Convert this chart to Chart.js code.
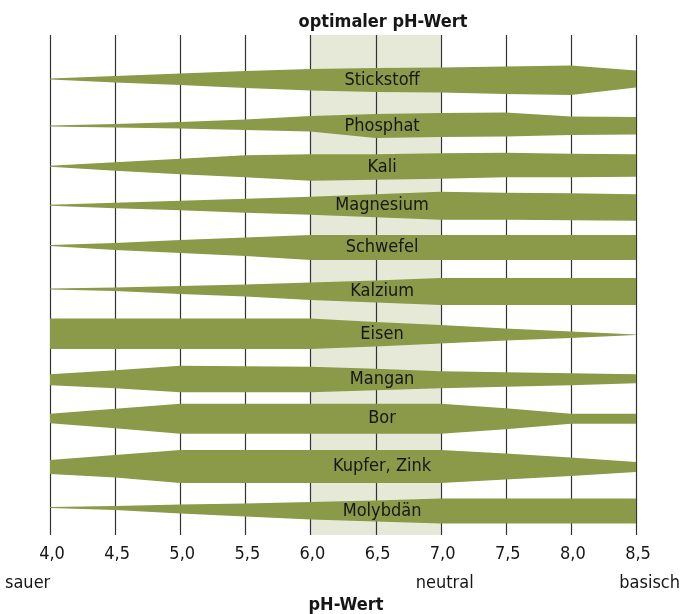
<!DOCTYPE html>
<html>
<head>
<meta charset="utf-8">
<script src="https://cdn.jsdelivr.net/npm/chart.js@4"></script>
<style>
  body { margin: 0; background: #fff; }
  #wrap { width: 681px; height: 614px; }
</style>
</head>
<body>
<div id="wrap"><canvas id="phChart" width="681" height="614"></canvas></div>
<script>
// pH-Stufen (x-Achse)
const ph = [4.0, 4.5, 5.0, 5.5, 6.0, 6.5, 7.0, 7.5, 8.0, 8.5];
const optimum = [6.0, 7.0];

const naehrstoffe = ["Stickstoff", "Phosphat", "Kali", "Magnesium", "Schwefel",
  "Kalzium", "Eisen", "Mangan", "Bor", "Kupfer, Zink", "Molybdän"];

// Verfuegbarkeit: Ausdehnung des Bandes ueber (oben) und unter (unten) der Grundlinie
const stickstoffOben = [1.5, 4, 6.5, 9, 11, 12, 12.5, 13.5, 14.5, 9.5];
const stickstoffUnten = [-0.5, 2.5, 5, 8, 10.5, 12, 12.5, 14, 15, 7.5];
const phosphatOben = [-2.5, -1, 1, 3.5, 7, 9, 10, 10.5, 6.5, 6];
const phosphatUnten = [3.5, 4.5, 5.5, 7, 8.5, 15, 14, 13.5, 12, 11.5];
const kaliOben = [0.5, 4, 7.5, 11, 12, 12, 13, 13.5, 12.5, 12];
const kaliUnten = [0.5, 4.5, 8, 11, 14.5, 13.5, 12.5, 11, 11, 10.5];
const magnesiumOben = [4.5, 6.5, 8.5, 10.5, 12.5, 15, 17.5, 16.5, 16, 15];
const magnesiumUnten = [-3.5, -1, 1, 3.5, 5.5, 8, 10.5, 10.5, 11, 11.5];
const schwefelOben = [7.5, 9.5, 12.5, 15, 17.5, 17.5, 17.5, 17.5, 17.5, 17.5];
const schwefelUnten = [-6.5, -2.5, 0.5, 3.5, 7.5, 7.5, 7.5, 7.5, 7.5, 7.5];
const kalziumOben = [7, 8, 9.5, 11, 13, 15, 17.5, 17.5, 17.5, 17.5];
const kalziumUnten = [-6, -4.5, -1.5, 1, 4.5, 7, 9.5, 9.5, 9.5, 9.5];
const eisenOben = [20, 20, 20, 20, 20, 16.5, 13.5, 10, 7, 4];
const eisenUnten = [10.5, 10.5, 10.5, 10.5, 10.5, 8, 5, 2, -0.5, -3.5];
const manganOben = [7.5, 11.5, 16, 15.5, 15, 13, 10.5, 9.5, 8.5, 7.5];
const manganUnten = [3.5, 6.5, 10.5, 10.5, 10.5, 8.5, 6.5, 5, 3.5, 1.5];
const borOben = [11, 16, 21, 21, 21, 21, 21, 16.5, 11, 11];
const borUnten = [-1.5, 3.5, 9, 9, 9, 9, 9, 4.5, -1, -1];
const kupferZinkOben = [8, 13, 18, 18, 18, 18, 18, 14.5, 10.5, 6];
const kupferZinkUnten = [6, 9.5, 15, 15, 15, 15, 15, 11.5, 8, 4];
const molybdaenOben = [4, 5, 6.5, 7.5, 9, 10.5, 12.5, 12.5, 12.5, 12.5];
const molybdaenUnten = [-3, -1, 2.5, 5.5, 8.5, 10.5, 12.5, 12.5, 12.5, 12.5];

const oben = [stickstoffOben, phosphatOben, kaliOben, magnesiumOben, schwefelOben,
  kalziumOben, eisenOben, manganOben, borOben, kupferZinkOben, molybdaenOben];
const unten = [stickstoffUnten, phosphatUnten, kaliUnten, magnesiumUnten, schwefelUnten,
  kalziumUnten, eisenUnten, manganUnten, borUnten, kupferZinkUnten, molybdaenUnten];

const zeile = 43.1;
const gruen = "#8a9a48";
const schrift = '"DejaVu Sans Condensed", "Liberation Sans Narrow", sans-serif';

const datasets = [];
naehrstoffe.forEach(function (name, i) {
  const mitte = i * zeile;
  datasets.push({
    label: name,
    data: ph.map((p, k) => ({ x: p, y: mitte - oben[i][k] })),
    backgroundColor: gruen,
    borderWidth: 0,
    pointRadius: 0,
    fill: "+1",
  });
  datasets.push({
    label: name + " unten",
    data: ph.map((p, k) => ({ x: p, y: mitte + unten[i][k] })),
    borderWidth: 0,
    pointRadius: 0,
    fill: false,
  });
});

const hintergrund = {
  id: "hintergrund",
  beforeDatasetsDraw(chart) {
    const { ctx, chartArea: a, scales: { x } } = chart;
    ctx.save();
    const x1 = x.getPixelForValue(optimum[0]);
    const x2 = x.getPixelForValue(optimum[1]);
    ctx.fillStyle = "#e6e8d8";
    ctx.fillRect(x1, a.top, x2 - x1, a.bottom - a.top);
    ctx.strokeStyle = "#333";
    ctx.lineWidth = 1.2;
    ph.forEach(function (v) {
      const px = Math.round(x.getPixelForValue(v)) + 0.5;
      ctx.beginPath();
      ctx.moveTo(px, a.top);
      ctx.lineTo(px, a.bottom);
      ctx.stroke();
    });
    ctx.restore();
  },
  afterDatasetsDraw(chart) {
    const { ctx, scales: { x, y } } = chart;
    ctx.save();
    ctx.fillStyle = "#161616";
    ctx.font = "18px " + schrift;
    ctx.textAlign = "center";
    ctx.textBaseline = "middle";
    // Beschriftung der Baender, mittig bei pH 6,5
    naehrstoffe.forEach(function (name, i) {
      const mitte = i * zeile;
      const yo = y.getPixelForValue(mitte - oben[i][5]);
      const yu = y.getPixelForValue(mitte + unten[i][5]);
      ctx.fillText(name, x.getPixelForValue(6.55), (yo + yu) / 2);
    });
    // Achsenbeschriftung
    ctx.textBaseline = "alphabetic";
    ph.forEach(function (v) {
      ctx.fillText(v.toFixed(1).replace(".", ","), x.getPixelForValue(v) + 2, 559);
    });
    ctx.textAlign = "left";
    ctx.fillText("sauer", 5, 588);
    ctx.textAlign = "center";
    ctx.fillText("neutral", x.getPixelForValue(7.0) + 4, 588);
    ctx.textAlign = "right";
    ctx.fillText("basisch", 680, 588);
    ctx.textAlign = "center";
    ctx.font = "bold 18px " + schrift;
    ctx.fillText("pH-Wert", 346, 610);
    ctx.fillText("optimaler pH-Wert", 383, 27);
    ctx.restore();
  },
};

new Chart(document.getElementById("phChart"), {
  type: "line",
  data: { datasets: datasets },
  options: {
    responsive: false,
    animation: false,
    layout: { padding: { left: 50, right: 45, top: 35, bottom: 79 } },
    scales: {
      x: { type: "linear", min: 4.0, max: 8.5, display: false },
      y: { min: -45, max: 455, reverse: true, display: false },
    },
    plugins: {
      legend: { display: false },
      tooltip: { enabled: false },
      filler: { propagate: false },
    },
  },
  plugins: [hintergrund],
});
</script>
</body>
</html>
